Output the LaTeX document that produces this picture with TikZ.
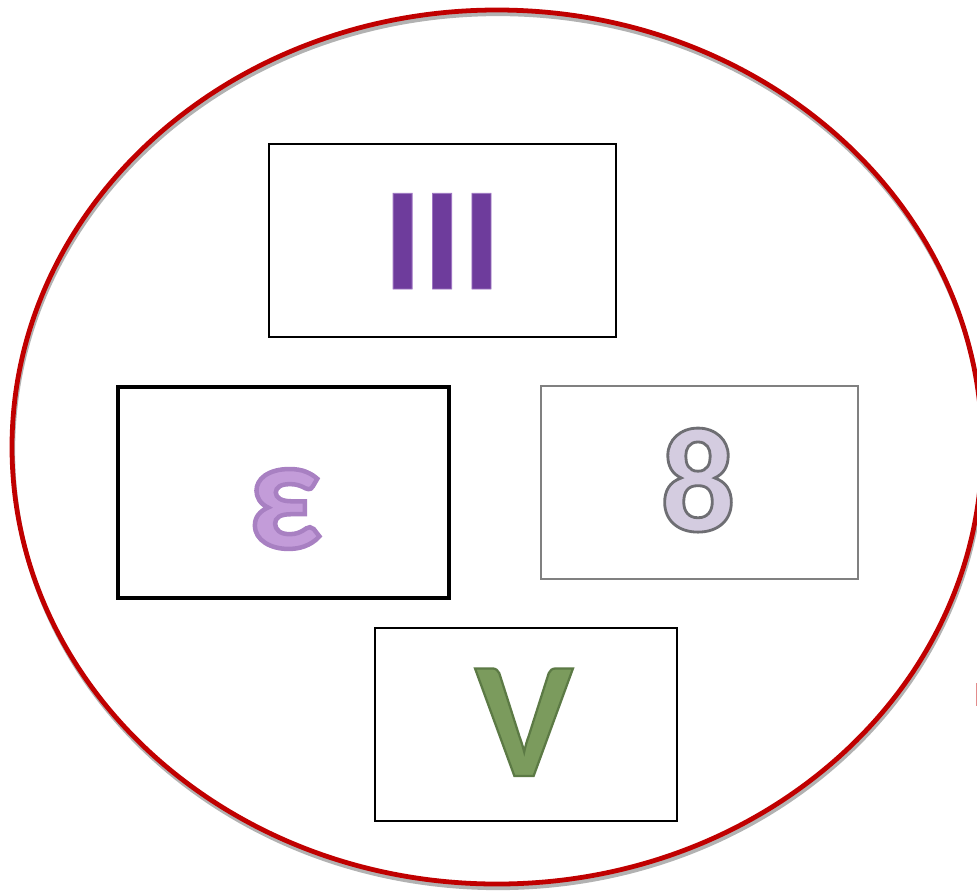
\documentclass[tikz,border=0pt]{standalone}
\usepackage{fontspec}
\setmainfont{Carlito}
\definecolor{ringred}{HTML}{C00000}
\definecolor{tallypurple}{HTML}{6E3C9C}
\definecolor{epslilac}{HTML}{C39CD9}
\definecolor{eightfill}{HTML}{D4CCE0}
\definecolor{veegreen}{HTML}{7B9B5D}

% outline of a glyph: stroke colour (r g b), width in bp
\newcommand{\rimmed}[3]{\special{pdf:literal direct #1 RG #2 w 2 Tr}#3\special{pdf:literal direct 0 Tr}}

\begin{document}
\begin{tikzpicture}[x=0.025cm, y=-0.025cm,
    card/.style={draw, line width=0.9pt, inner sep=0pt, minimum height=4.825cm},
    glyph/.style={inner sep=0pt, anchor=base, font=\bfseries\fontsize{#1}{#1}\selectfont}
    ]
    \useasboundingbox (0,0) rectangle (977,890);

    \draw[black!30, line width=3pt] (498,451) ellipse [x radius=485, y radius=437];
    \draw[ringred, line width=3.4pt] (497,447) ellipse [x radius=485, y radius=437];
    \draw[ringred!45, line width=1pt] (976.6,683) -- (976.6,706);

    \node[card, minimum width=8.675cm] (tallybox) at (442.5,240.5) {};
    \node[card, line width=2.8pt, minimum width=8.28cm, minimum height=5.28cm] (epsbox) at (283.5,492.5) {};
    \node[card, draw=black!50, minimum width=7.925cm] (eightbox) at (699.5,482.5) {};
    \node[card, minimum width=7.55cm] (veebox) at (526,724.5) {};

    \node[glyph=105pt, text=tallypurple] (tally) at (442,289) {\rimmed{0.62 0.46 0.76}{0.6}{III}};
    \node[glyph=114pt, text=epslilac] (eps) at (285,548) {\rimmed{0.66 0.5 0.76}{3.2}{ε}};
    \node[glyph=106pt, text=eightfill] (eight) at (698,531) {\rimmed{0.43 0.43 0.45}{2}{8}};
    \node[glyph=118pt, text=veegreen] (vee) at (524,776) {\rimmed{0.36 0.48 0.27}{1.6}{V}};
\end{tikzpicture}
\end{document}
